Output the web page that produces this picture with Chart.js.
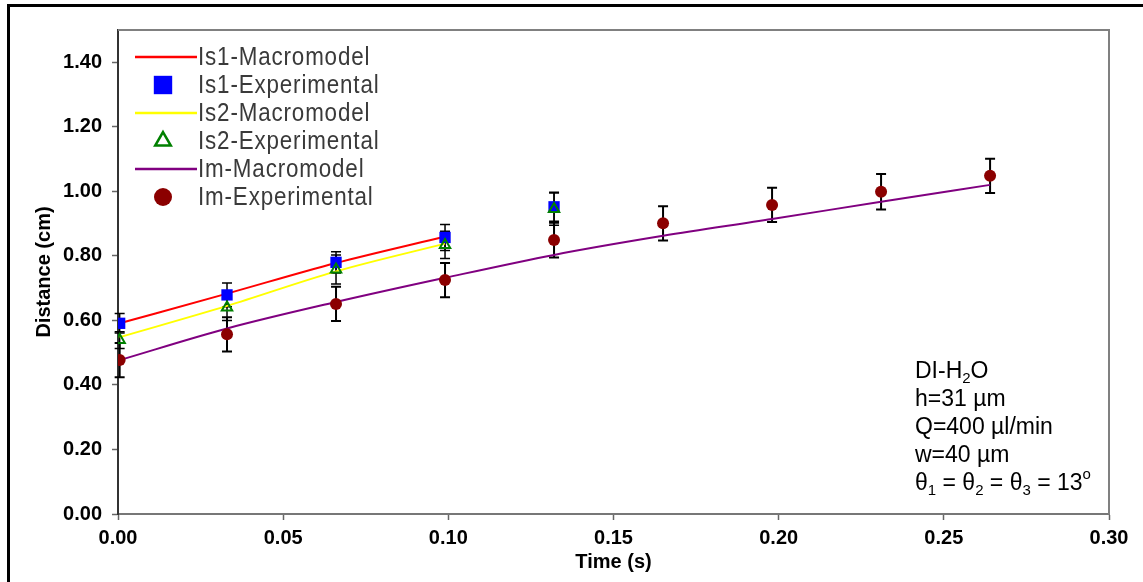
<!DOCTYPE html>
<html>
<head>
<meta charset="utf-8">
<script src="https://cdn.jsdelivr.net/npm/chart.js@4.4.1/dist/chart.umd.min.js"></script>
<style>
  html, body { margin: 0; padding: 0; background: #fff; }
  #wrap { width: 1143px; height: 582px; position: relative; }
</style>
</head>
<body>
<div id="wrap"><canvas id="Chart_1"></canvas></div>
<script>
// time of each frame (s)
var times = [0.0005, 0.033, 0.066, 0.099, 0.132, 0.165, 0.198, 0.231, 0.264];

// measured distances (cm) with error half-widths
var is1Exp = [0.591, 0.679, 0.780, 0.857, 0.952];
var is1Err = [0.030, 0.037, 0.033, 0.040, 0.045];
var is2Exp = [0.539, 0.640, 0.758, 0.834, 0.945];
var is2Err = [0.026, 0.040, 0.045, 0.042, 0.050];
var imExp = [0.477, 0.557, 0.651, 0.725, 0.849, 0.901, 0.958, 0.999, 1.048];
var imErr = [0.053, 0.053, 0.053, 0.053, 0.054, 0.053, 0.053, 0.055, 0.053];

// macromodel curves
var is1Model = [0.591, 0.683, 0.778, 0.860];
var is2Model = [0.548, 0.645, 0.752, 0.838];
var imModel = [0.477, 0.575, 0.657, 0.732, 0.803, 0.862, 0.914, 0.968, 1.020];

var xTicks = [0, 0.05, 0.10, 0.15, 0.20, 0.25, 0.30];
var yTicks = [0, 0.20, 0.40, 0.60, 0.80, 1.00, 1.20, 1.40];

function pts(ys) {
    return ys.map(function (y, i) { return { x: times[i], y: y }; });
}

var axisFont = { family: '"Liberation Sans", Arial, sans-serif', weight: 'bold', size: 20 };

// error bars under the markers
var errorBars = {
    id: 'errorBars',
    beforeDatasetsDraw: function (chart) {
        var ctx = chart.ctx, xs = chart.scales.x, ys = chart.scales.y;
        chart.data.datasets.forEach(function (ds) {
            if (!ds.errors) return;
            ctx.save();
            ctx.strokeStyle = '#000';
            ctx.lineWidth = ds.errorWidth;
            ds.data.forEach(function (p, i) {
                var px = xs.getPixelForValue(p.x);
                var top = ys.getPixelForValue(p.y + ds.errors[i]);
                var bot = ys.getPixelForValue(p.y - ds.errors[i]);
                ctx.beginPath();
                ctx.moveTo(px, top); ctx.lineTo(px, bot);
                ctx.moveTo(px - 5, top); ctx.lineTo(px + 5, top);
                ctx.moveTo(px - 5, bot); ctx.lineTo(px + 5, bot);
                ctx.stroke();
            });
            ctx.restore();
        });
    }
};

// box around the plot and the outer frame
var frame = {
    id: 'frame',
    afterDraw: function (chart) {
        var ctx = chart.ctx, a = chart.chartArea;
        ctx.save();
        ctx.strokeStyle = '#808080';
        ctx.lineWidth = 2;
        ctx.beginPath();
        ctx.moveTo(a.left, a.top); ctx.lineTo(a.right, a.top); ctx.lineTo(a.right, a.bottom);
        ctx.stroke();
        ctx.fillStyle = '#000';
        ctx.fillRect(7, 4, chart.width - 7, 3);
        ctx.fillRect(7, 4, 3, chart.height - 4);
        ctx.restore();
    }
};

// legend in the upper left of the plot
var legendBox = {
    id: 'legendBox',
    afterDraw: function (chart) {
        var ctx = chart.ctx, a = chart.chartArea;
        var x0 = a.left + 17, y0 = a.top + 27;
        ctx.save();
        chart.data.datasets.forEach(function (ds, i) {
            var y = y0 + i * 28;
            if (ds.showLine === false) {
                ctx.fillStyle = ds.backgroundColor;
                ctx.strokeStyle = ds.borderColor;
                Chart.helpers.drawPoint(ctx, {
                    pointStyle: ds.pointStyle, rotation: 0,
                    radius: ds.legendRadius, borderWidth: ds.pointBorderWidth
                }, x0 + 28, y);
            } else {
                ctx.strokeStyle = ds.borderColor;
                ctx.lineWidth = 2.5;
                ctx.beginPath();
                ctx.moveTo(x0, y); ctx.lineTo(x0 + 62, y);
                ctx.stroke();
            }
            // narrow lettering
            ctx.save();
            ctx.translate(x0 + 63, y + 1);
            ctx.scale(0.86, 1);
            ctx.fillStyle = '#3a3a3a';
            ctx.font = '26px "Liberation Sans", Arial, sans-serif';
            ctx.letterSpacing = '1px';
            ctx.textBaseline = 'middle';
            ctx.fillText(ds.label, 0, 0);
            ctx.restore();
        });
        ctx.restore();
    }
};

// experiment conditions, lower right
var notes = {
    id: 'notes',
    afterDraw: function (chart) {
        var ctx = chart.ctx, a = chart.chartArea;
        var lines = [
            [['DI-H', 0], ['2', 1], ['O', 0]],
            [['h=31 µm', 0]],
            [['Q=400 µl/min', 0]],
            [['w=40 µm', 0]],
            [['θ', 0], ['1', 1], [' = θ', 0], ['2', 1], [' = θ', 0], ['3', 1], [' = 13', 0], ['o', 2]]
        ];
        ctx.save();
        ctx.fillStyle = '#000';
        ctx.textBaseline = 'alphabetic';
        lines.forEach(function (runs, i) {
            var x = a.right - 194, y = a.bottom - 136 + i * 28;
            runs.forEach(function (r) {
                var size = r[1] ? 15 : 23;
                var dy = r[1] === 1 ? 5 : (r[1] === 2 ? -11 : 0);
                ctx.font = size + 'px "Liberation Sans", Arial, sans-serif';
                ctx.fillText(r[0], x, y + dy);
                x += ctx.measureText(r[0]).width;
            });
        });
        ctx.restore();
    }
};

var ctx = document.getElementById('Chart_1');
var chart = new Chart(ctx, {
    type: 'line',
    data: {
        datasets: [{
            label: 'Is1-Macromodel',
            data: pts(is1Model),
            borderColor: '#ff0000',
            borderWidth: 2,
            pointRadius: 0,
            cubicInterpolationMode: 'monotone',
            order: 2
        }, {
            label: 'Is1-Experimental',
            data: pts(is1Exp),
            errors: is1Err,
            errorWidth: 1.5,
            showLine: false,
            pointStyle: 'rect',
            pointRadius: 8,
            legendRadius: 13,
            pointBorderWidth: 0,
            backgroundColor: '#0000ff',
            borderColor: '#0000ff',
            order: 1
        }, {
            label: 'Is2-Macromodel',
            data: pts(is2Model),
            borderColor: '#ffff00',
            borderWidth: 2,
            pointRadius: 0,
            cubicInterpolationMode: 'monotone',
            order: 2
        }, {
            label: 'Is2-Experimental',
            data: pts(is2Exp),
            errors: is2Err,
            errorWidth: 1.5,
            showLine: false,
            pointStyle: 'triangle',
            pointRadius: 6,
            legendRadius: 9,
            pointBorderWidth: 2,
            backgroundColor: 'rgba(0,0,0,0)',
            borderColor: '#008000',
            order: 0
        }, {
            label: 'Im-Macromodel',
            data: pts(imModel),
            borderColor: '#800080',
            borderWidth: 2,
            pointRadius: 0,
            cubicInterpolationMode: 'monotone',
            order: 2
        }, {
            label: 'Im-Experimental',
            data: pts(imExp),
            errors: imErr,
            errorWidth: 2,
            showLine: false,
            pointStyle: 'circle',
            pointRadius: 6,
            legendRadius: 9,
            pointBorderWidth: 0,
            backgroundColor: '#8b0000',
            borderColor: '#8b0000',
            order: 1
        }]
    },
    options: {
        responsive: true,
        maintainAspectRatio: false,
        animation: false,
        layout: { padding: { top: 30, right: 34, left: 8, bottom: 6 } },
        plugins: { legend: { display: false }, tooltip: { enabled: false } },
        scales: {
            x: {
                type: 'linear',
                min: 0,
                max: 0.3,
                afterBuildTicks: function (s) { s.ticks = xTicks.map(function (v) { return { value: v }; }); },
                afterFit: function (s) { s.height = 62; },
                grid: { drawOnChartArea: false, tickLength: 6, color: '#666', tickWidth: 1.5 },
                border: { color: '#777', width: 2 },
                ticks: {
                    color: '#000', font: axisFont, padding: 6, maxRotation: 0,
                    callback: function (v) { return v.toFixed(2); }
                },
                title: { display: true, text: 'Time (s)', color: '#000', font: axisFont, padding: { top: 0, bottom: 2 } }
            },
            y: {
                min: 0,
                max: 1.5,
                afterBuildTicks: function (s) { s.ticks = yTicks.map(function (v) { return { value: v }; }); },
                afterFit: function (s) { s.width = 110; },
                grid: { drawOnChartArea: false, tickLength: 6, color: '#666', tickWidth: 1.5 },
                border: { color: '#333', width: 2 },
                ticks: {
                    color: '#000', font: axisFont, padding: 10,
                    callback: function (v) { return v.toFixed(2); }
                },
                title: { display: true, text: 'Distance (cm)', color: '#000', font: axisFont, padding: { top: 24, bottom: 0 } }
            }
        }
    },
    plugins: [errorBars, frame, legendBox, notes]
});
</script>
</body>
</html>
